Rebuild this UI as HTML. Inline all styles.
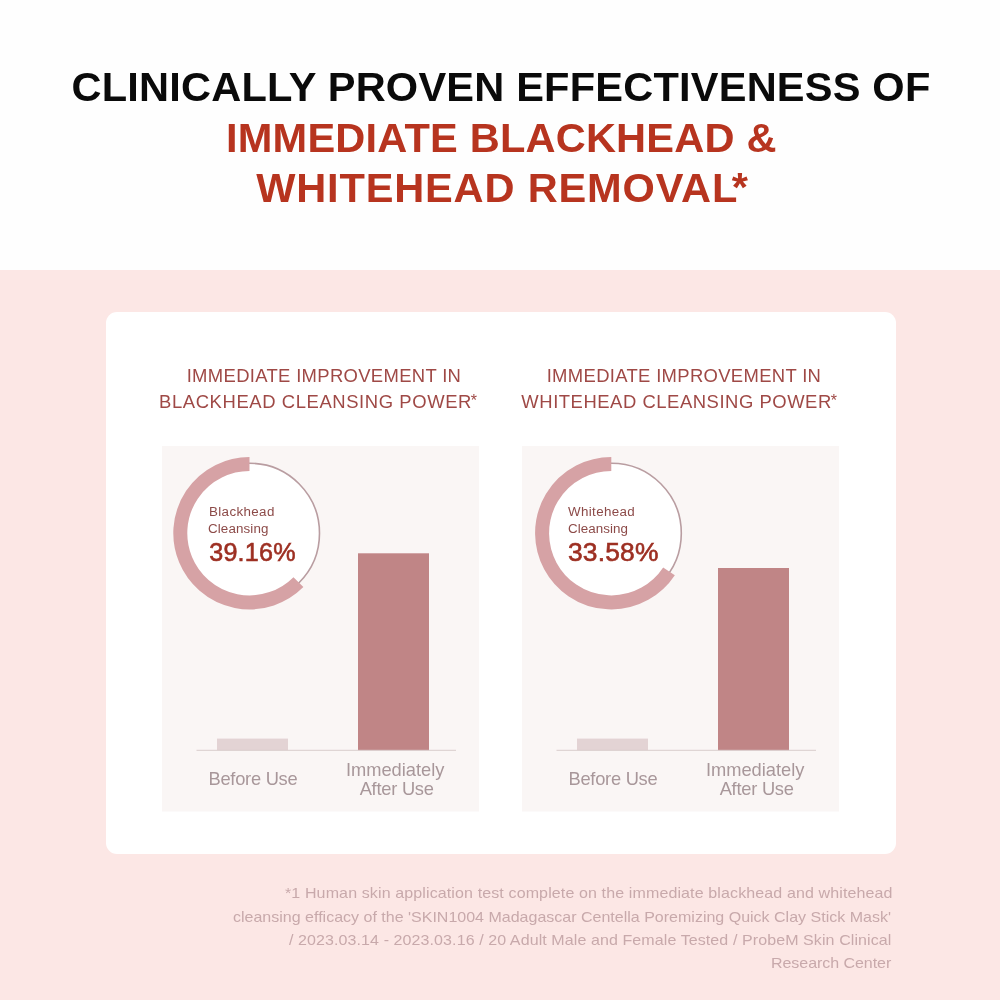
<!DOCTYPE html>
<html lang="en"><head><meta charset="utf-8"><title>Clinically proven effectiveness</title>
<style>
html,body{margin:0;padding:0}
body{width:1000px;height:1000px;position:relative;overflow:hidden;background:#fefefe;font-family:"Liberation Sans",sans-serif}
.bg{position:absolute;left:0;top:270px;width:1000px;height:730px;background:#fce7e5}
.card{position:absolute;left:106px;top:312px;width:789.5px;height:542px;background:#fff;border-radius:11px}
.g{position:absolute;left:0;top:0}
.t{position:absolute;white-space:nowrap;line-height:1;margin:0;transform-origin:0 0}
</style></head>
<body>
<div class="bg"></div>
<div class="card"></div>
<svg class="g" width="1000" height="1000" viewBox="0 0 1000 1000"><rect x="162" y="446" width="317" height="365.5" fill="#faf6f5"/><circle cx="249.5" cy="533.2" r="70" fill="#ffffff" stroke="#b99da1" stroke-width="1.6"/><path d="M298.43 582.13 A69.2 69.2 0 1 1 249.5 464.00000000000006" fill="none" stroke="#d6a2a5" stroke-width="14"/><rect x="217" y="738.6" width="71" height="11.7" fill="#e3d3d4"/><rect x="358" y="553.3" width="71" height="197.0" fill="#c08586"/><rect x="196.5" y="749.8" width="259.5" height="1" fill="#d9cdcd"/><rect x="522" y="446" width="317" height="365.5" fill="#faf6f5"/><circle cx="611.3" cy="533.2" r="70" fill="#ffffff" stroke="#b99da1" stroke-width="1.6"/><path d="M669.00 571.39 A69.2 69.2 0 1 1 611.3 464.00000000000006" fill="none" stroke="#d6a2a5" stroke-width="14"/><rect x="577" y="738.6" width="71" height="11.7" fill="#e3d3d4"/><rect x="718" y="568.0" width="71" height="182.3" fill="#c08586"/><rect x="556.5" y="749.8" width="259.5" height="1" fill="#d9cdcd"/></svg>
<div class="t" style="left:71.47px;top:66.41px;font-size:41.57px;letter-spacing:0.202px;color:#0a0a0a;font-weight:700;">CLINICALLY PROVEN EFFECTIVENESS OF</div>
<div class="t" style="left:226.00px;top:117.01px;font-size:41.57px;letter-spacing:0.200px;color:#b7341f;font-weight:700;">IMMEDIATE BLACKHEAD &amp;</div>
<div class="t" style="left:256.16px;top:167.01px;font-size:41.57px;letter-spacing:0.828px;color:#b7341f;font-weight:700;">WHITEHEAD REMOVAL</div>
<div class="t" style="left:731.80px;top:166.21px;font-size:41.57px;letter-spacing:0.000px;color:#b7341f;font-weight:700;">*</div>
<div class="t" style="left:186.68px;top:366.57px;font-size:18.46px;letter-spacing:0.329px;color:#9f4946;font-weight:400;">IMMEDIATE IMPROVEMENT IN</div>
<div class="t" style="left:159.07px;top:392.57px;font-size:18.46px;letter-spacing:0.590px;color:#9f4946;font-weight:400;">BLACKHEAD CLEANSING POWER</div>
<div class="t" style="left:470.79px;top:393.07px;font-size:15.99px;letter-spacing:0.000px;color:#9f4946;font-weight:400;">*</div>
<div class="t" style="left:208.49px;top:769.90px;font-size:18.31px;letter-spacing:-0.262px;color:#a8979a;font-weight:400;">Before Use</div>
<div class="t" style="left:346.00px;top:760.50px;font-size:18.31px;letter-spacing:-0.031px;color:#a8979a;font-weight:400;">Immediately</div>
<div class="t" style="left:359.67px;top:779.50px;font-size:18.31px;letter-spacing:-0.246px;color:#a8979a;font-weight:400;">After Use</div>
<div class="t" style="left:546.68px;top:366.57px;font-size:18.46px;letter-spacing:0.329px;color:#9f4946;font-weight:400;">IMMEDIATE IMPROVEMENT IN</div>
<div class="t" style="left:521.36px;top:392.57px;font-size:18.46px;letter-spacing:0.534px;color:#9f4946;font-weight:400;">WHITEHEAD CLEANSING POWER</div>
<div class="t" style="left:830.79px;top:393.07px;font-size:15.99px;letter-spacing:0.000px;color:#9f4946;font-weight:400;">*</div>
<div class="t" style="left:568.49px;top:769.90px;font-size:18.31px;letter-spacing:-0.262px;color:#a8979a;font-weight:400;">Before Use</div>
<div class="t" style="left:706.00px;top:760.50px;font-size:18.31px;letter-spacing:-0.031px;color:#a8979a;font-weight:400;">Immediately</div>
<div class="t" style="left:719.67px;top:779.50px;font-size:18.31px;letter-spacing:-0.246px;color:#a8979a;font-weight:400;">After Use</div>
<div class="t" style="left:208.64px;top:505.78px;font-size:12.50px;letter-spacing:0.334px;color:#8c4a48;font-weight:400;transform:scaleX(1.07);">Blackhead</div>
<div class="t" style="left:208.00px;top:522.58px;font-size:12.50px;letter-spacing:0.105px;color:#8c4a48;font-weight:400;transform:scaleX(1.07);">Cleansing</div>
<div class="t" style="left:209.23px;top:539.51px;font-size:25.15px;letter-spacing:0.201px;color:#9d2f22;font-weight:400;-webkit-text-stroke:0.6px #9d2f22;">39.16%</div>
<div class="t" style="left:568.28px;top:505.98px;font-size:12.50px;letter-spacing:0.329px;color:#8c4a48;font-weight:400;transform:scaleX(1.07);">Whitehead</div>
<div class="t" style="left:568.00px;top:522.58px;font-size:12.50px;letter-spacing:0.055px;color:#8c4a48;font-weight:400;transform:scaleX(1.07);">Cleansing</div>
<div class="t" style="left:568.06px;top:539.51px;font-size:25.15px;letter-spacing:0.164px;color:#9d2f22;font-weight:400;transform:scaleX(1.05);-webkit-text-stroke:0.6px #9d2f22;">33.58%</div>
<div class="t" style="left:285.19px;top:885.40px;font-size:15.12px;letter-spacing:0.110px;color:#c8a9ab;font-weight:400;transform:scaleX(1.06);">*1 Human skin application test complete on the immediate blackhead and whitehead</div>
<div class="t" style="left:233.00px;top:909.20px;font-size:15.12px;letter-spacing:-0.004px;color:#c8a9ab;font-weight:400;transform:scaleX(1.06);">cleansing efficacy of the &#x27;SKIN1004 Madagascar Centella Poremizing Quick Clay Stick Mask&#x27;</div>
<div class="t" style="left:289.47px;top:932.00px;font-size:15.12px;letter-spacing:0.082px;color:#c8a9ab;font-weight:400;transform:scaleX(1.06);">/ 2023.03.14 - 2023.03.16 / 20 Adult Male and Female Tested / ProbeM Skin Clinical</div>
<div class="t" style="left:770.64px;top:955.00px;font-size:15.12px;letter-spacing:-0.053px;color:#c8a9ab;font-weight:400;transform:scaleX(1.06);">Research Center</div>
</body></html>
